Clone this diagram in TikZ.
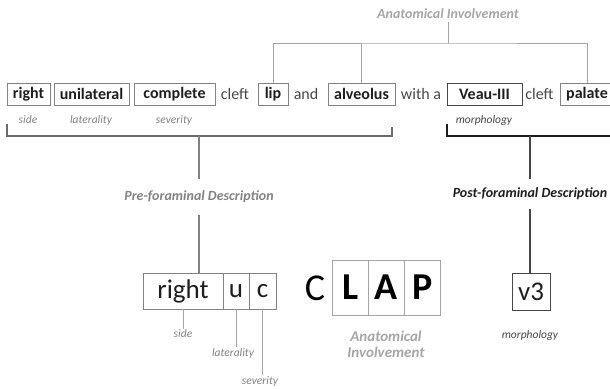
\documentclass[tikz,border=0pt]{standalone}
\usepackage{fontspec}
\setmainfont{Carlito}
\usepackage{xcolor}
\definecolor{clgray}{RGB}{130,130,130}
\definecolor{cllight}{RGB}{165,165,165}
\definecolor{cldark}{RGB}{70,70,70}
\definecolor{clink}{RGB}{30,30,30}
\usetikzlibrary{positioning, calc}

\begin{document}
\begin{tikzpicture}[x=1pt, y=-1pt,
  wordbox/.style={draw=clgray, line width=0.9pt, font=\fontsize{16}{18}\selectfont\bfseries,
                  text=clink, minimum height=22pt, inner sep=0pt},
  plainword/.style={font=\fontsize{16}{18}\selectfont, text=cldark, inner sep=0pt},
  tag/.style={font=\fontsize{11.5}{13}\selectfont\itshape, text=clgray, inner sep=1pt},
  heading/.style={font=\fontsize{14}{16}\selectfont\bfseries\itshape, text=clgray,
                  inner xsep=2pt, inner ysep=12pt},
  codebox/.style={draw=clgray, line width=0.9pt, font=\fontsize{27}{29}\selectfont,
                  text=clink, minimum height=36pt, inner sep=0pt, outer sep=0pt},
  lapbox/.style={draw=cllight, line width=0.9pt, font=\fontsize{38}{40}\selectfont\bfseries,
                 minimum height=55pt, minimum width=36pt, inner sep=0pt, outer sep=0pt},
  tie/.style={draw=cllight, line width=0.9pt},
  brace/.style={line width=1.6pt},
]
  \clip (0,0) rectangle (610,388);

  % Sentence row
  \node[wordbox, minimum width=43pt] (wright) at (28.5,94) {right};
  \node[wordbox, minimum width=75pt] (wuni) at (91.5,94) {unilateral};
  \node[wordbox, minimum width=81pt] (wcomp) at (174.5,94) {complete};
  \node[plainword] (wcleft) at (235,94) {cleft};
  \node[wordbox, minimum width=30pt] (wlip) at (273,94) {lip};
  \node[plainword] (wand) at (306,94) {and};
  \node[wordbox, minimum width=67pt] (walv) at (361.5,94) {alveolus};
  \node[plainword] (wwith) at (421,94) {with a};
  \node[wordbox, draw=cldark, minimum width=75pt] (wveau) at (484.5,94) {Veau-III};
  \node[plainword] (wcleftb) at (539.5,94) {cleft};
  \node[wordbox, minimum width=54pt] (wpal) at (587,94) {palate};

  % Word tags
  \node[tag] (tside) at (28,120) {side};
  \node[tag] (tlat) at (91,120) {laterality};
  \node[tag] (tsev) at (174,120) {severity};
  \node[tag, text=cldark] (tmorph) at (484,120) {morphology};

  % Anatomical involvement tree
  \node[font=\fontsize{14}{16}\selectfont\bfseries\itshape, text=cllight, inner ysep=3pt] (anat)
       at (448,14) {Anatomical Involvement};
  \coordinate (knot) at (448,43);
  \draw[tie] (anat.south) -- (knot);
  \draw[tie] (wlip.north) |- (knot) -| (wpal.north);
  \draw[tie] (walv.north) -- (walv.north |- knot);

  % Brackets
  \coordinate (lbl) at (7,124);
  \coordinate (lbr) at (392,127);
  \coordinate (lmid) at (199,136);
  \coordinate (rbl) at (447,124);
  \coordinate (rbr) at (615,136);
  \coordinate (rmid) at (530,136);
  \draw[brace, draw=cldark!80] (lbl) |- (lmid) -| (lbr);
  \draw[brace, draw=clink] (rbl) |- (rbr);

  % Descriptions
  \node[heading] (pre) at (199,197) {Pre-foraminal Description};
  \node[heading, text=clink, inner ysep=9pt] (post) at (530,194) {Post-foraminal Description};
  \draw[draw=clgray, line width=1.2pt] (lmid) -- (lmid |- pre.north);
  \draw[draw=cldark, line width=1.2pt] (rmid) -- (rmid |- post.north);

  % Code boxes
  \node[codebox, minimum width=80pt] (bright) at (183,291) {right};
  \node[codebox, minimum width=26pt, right=0pt of bright] (bu) {u};
  \node[codebox, minimum width=27pt, right=0pt of bu] (bc) {c};
  \draw[draw=clgray, line width=1.2pt] (pre.south) -- (pre.south |- bright.north);

  \node[tag] (cside) at (183,334) {side};
  \node[tag] (clat) at (233,353) {laterality};
  \node[tag] (csev) at (260,381) {severity};
  \draw[tie] (bright.south) -- (cside.north);
  \draw[tie] (bu.south) -- (bu.south |- clat.north);
  \draw[tie] (bc.south) -- (bc.south |- csev.north);

  % CLAP
  \node[font=\fontsize{38}{40}\selectfont, inner sep=0pt] (clapc) at (315,288) {C};
  \node[lapbox] (clapl) at (350.5,287.5) {L};
  \node[lapbox, right=0pt of clapl] (clapa) {A};
  \node[lapbox, right=0pt of clapa] (clapp) {P};
  \node[font=\fontsize{15}{16}\selectfont\bfseries\itshape, text=cllight, align=center]
       (clapt) at (386,344) {Anatomical\\Involvement};

  % Post-foraminal code
  \node[codebox, draw=cldark, minimum width=38pt, minimum height=37pt] (bv) at (531,291.5) {v3};
  \draw[draw=cldark, line width=1.2pt] (post.south) -- (post.south |- bv.north);
  \node[tag, text=cldark] (cmorph) at (530,335) {morphology};
\end{tikzpicture}
\end{document}
